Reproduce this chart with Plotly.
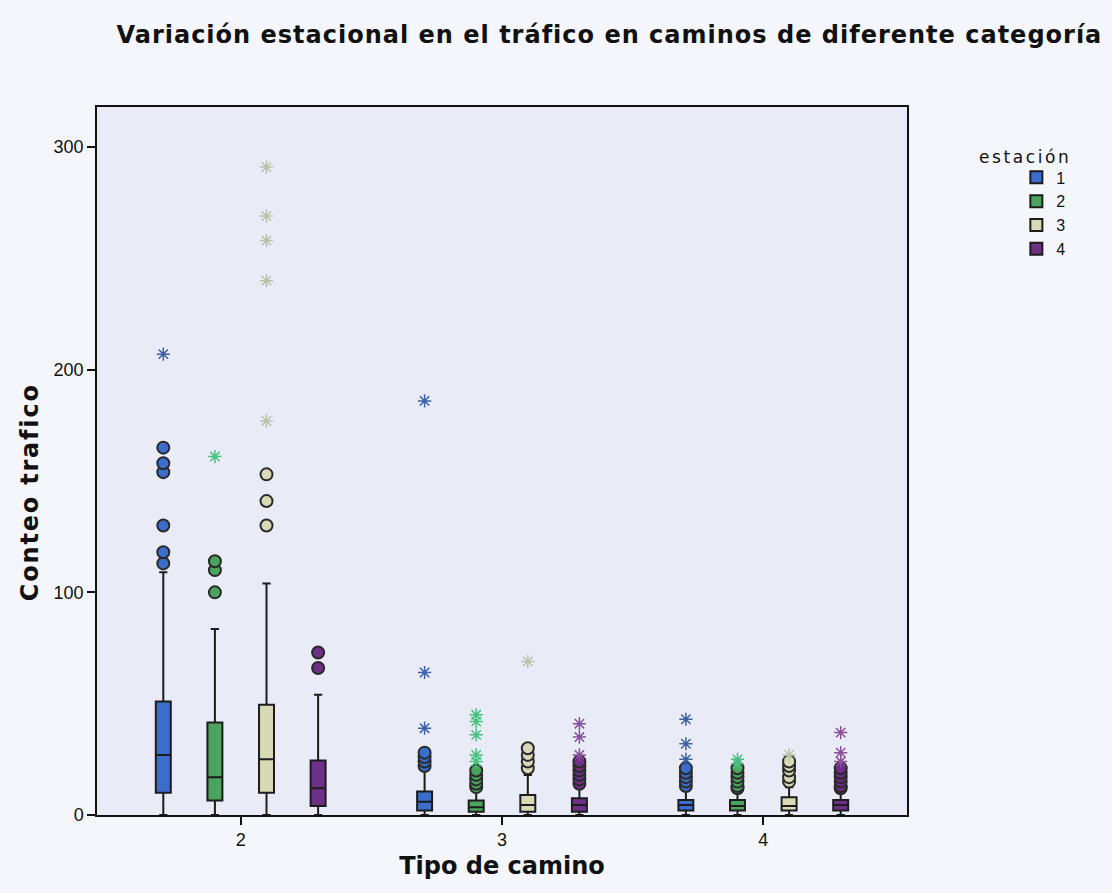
import plotly.graph_objects as go

# Road category (x) and season (series)
categories = ["2", "3", "4"]
seasons = ["1", "2", "3", "4"]
colors = ["#3b6dcc", "#4aa35e", "#d8d9b6", "#6e2f86"]
star_colors = ["#3c5fa6", "#47c07f", "#b8c2ab", "#8a4f9c"]

# Box statistics per season, one value per road category
lowerfence = {"1": [0, 0, 0], "2": [0, 0, 0], "3": [0, 0, 0], "4": [0, 0, 0]}
q1 = {"1": [10, 2, 2], "2": [6.5, 1.5, 2], "3": [10, 1.5, 2], "4": [4, 1.5, 2]}
median = {"1": [27, 6, 4.5], "2": [17, 3.5, 4], "3": [25, 4.5, 4], "4": [12, 4.5, 4.5]}
q3 = {"1": [51, 10.5, 6.7], "2": [41.5, 6.5, 6.7], "3": [49.5, 9, 8], "4": [24.5, 7.5, 6.7]}
upperfence = {"1": [109, 21, 11], "2": [83.5, 11, 10.5], "3": [104, 18, 12.5], "4": [54, 12.5, 10.5]}

# Outliers (circles), per season and category
outliers = {
    "1": {"2": [165, 158, 154, 130, 118, 113], "3": [28, 26, 24, 22], "4": [21, 19, 17, 15, 13]},
    "2": {"2": [114, 110, 100], "3": [20, 18, 16, 14, 12.5], "4": [21, 19, 17, 15, 13, 12]},
    "3": {"2": [153, 141, 130], "3": [30, 27, 24, 21], "4": [24, 22, 20, 17, 15]},
    "4": {"2": [73, 66], "3": [24, 22, 20, 18, 16, 14], "4": [21, 19, 17, 15, 13, 12]},
}

# Extreme values (asterisks), per season and category
extremes = {
    "1": {"2": [207], "3": [186, 64, 39], "4": [43, 32, 25]},
    "2": {"2": [161], "3": [45, 42, 36, 27, 24], "4": [25, 23]},
    "3": {"2": [291, 269, 258, 240, 177], "3": [69], "4": [27]},
    "4": {"2": [], "3": [41, 35, 27], "4": [37, 28, 24]},
}

FONT = "Liberation Sans, Arial, sans-serif"
HEAD = "DejaVu Sans, Liberation Sans, sans-serif"


def spaced(text, px):
    return f'<span style="letter-spacing:{px}px">{text}</span>'


fig = go.Figure()

for i, s in enumerate(seasons):
    fig.add_trace(go.Box(
        name=s,
        x=categories,
        q1=q1[s], median=median[s], q3=q3[s],
        lowerfence=lowerfence[s], upperfence=upperfence[s],
        offsetgroup=s,
        fillcolor=colors[i],
        line=dict(color="#1c1c1c", width=2),
        whiskerwidth=0.55,
        boxpoints=False,
        legendgroup=s,
        showlegend=True,
    ))

    def point_trace(data, symbol, size, fill, line_color, line_width):
        xs, ys = [], []
        for c in categories:
            for v in data[c]:
                xs.append(c)
                ys.append(v)
        return go.Box(
            x=xs, y=ys,
            offsetgroup=s,
            legendgroup=s,
            showlegend=False,
            boxpoints="all", jitter=0, pointpos=0,
            fillcolor="rgba(0,0,0,0)",
            line=dict(color="rgba(0,0,0,0)", width=0),
            whiskerwidth=0,
            marker=dict(symbol=symbol, size=size, color=fill,
                        line=dict(color=line_color, width=line_width)),
            hoverinfo="y",
        )

    fig.add_trace(point_trace(outliers[s], "circle", 12, colors[i], "#2a2a2a", 2))
    fig.add_trace(point_trace(extremes[s], "asterisk-open", 11, star_colors[i], star_colors[i], 1.5))

# Legend heading
fig.add_annotation(
    text=spaced("estación", 2.6),
    xref="paper", yref="paper", x=1.146, y=0.929,
    xanchor="center", yanchor="middle", showarrow=False,
    font=dict(size=17, family=HEAD, color="#111111"),
)

# Y axis heading
fig.add_annotation(
    text="<b>" + spaced("Conteo trafico", 1.8) + "</b>",
    xref="paper", yref="paper", x=-0.0827, y=0.456,
    xanchor="center", yanchor="middle", showarrow=False, textangle=-90,
    font=dict(size=24, family=HEAD, color="#111111"),
)

fig.update_layout(
    width=1112, height=893,
    margin=dict(l=97, r=205, t=107, b=78),
    paper_bgcolor="#f4f6fb",
    plot_bgcolor="#e9ecf7",
    boxmode="group",
    boxgap=0.21,
    boxgroupgap=0.71,
    font=dict(family=FONT, color="#111111", size=14),
    title=dict(
        text="<b>" + spaced("Variación estacional en el tráfico en caminos de diferente categoría", 1) + "</b>",
        font=dict(size=24, family=HEAD, color="#111111"),
        xref="container", yref="container",
        x=0.548, xanchor="center", y=0.961, yanchor="middle",
    ),
    xaxis=dict(
        type="category",
        categoryorder="array", categoryarray=categories,
        range=[-0.55, 2.55],
        showline=True, mirror=True, linecolor="#111111", linewidth=1.5,
        ticks="outside", ticklen=8, tickcolor="#111111", tickwidth=1.5,
        showgrid=False, zeroline=False,
        tickfont=dict(size=18),
        title=dict(text="<b>Tipo de camino</b>", font=dict(size=24, family=HEAD), standoff=8),
    ),
    yaxis=dict(
        range=[0, 318],
        tickvals=[0, 100, 200, 300],
        showline=True, mirror=True, linecolor="#111111", linewidth=1.5,
        ticks="outside", ticklen=8, tickcolor="#111111", tickwidth=1.5,
        showgrid=False, zeroline=False,
        tickfont=dict(size=18),
    ),
    legend=dict(
        x=1.135, xanchor="left", y=0.9245, yanchor="top",
        bgcolor="rgba(0,0,0,0)",
        font=dict(size=16),
        tracegroupgap=0,
        itemwidth=30,
    ),
)

fig.write_html("out.html")
